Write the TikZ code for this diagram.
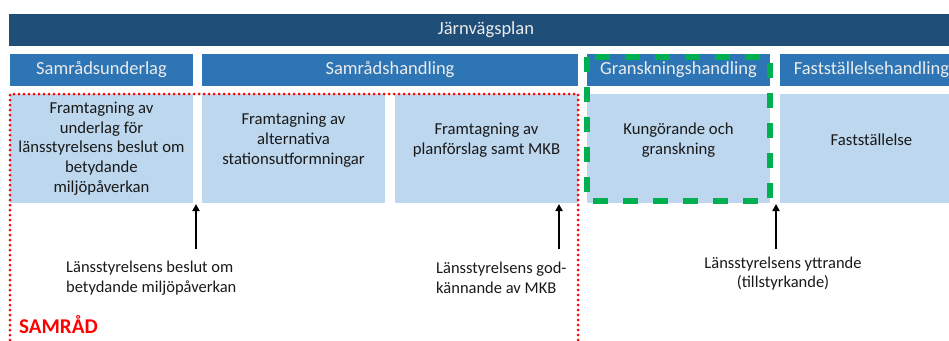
\documentclass[tikz,border=0pt]{standalone}
\usepackage{fontspec}
\setmainfont{Carlito}
\usetikzlibrary{arrows.meta}
\definecolor{darkbar}{HTML}{1F4E79}
\definecolor{midbar}{HTML}{2E75B6}
\definecolor{lightbox}{HTML}{BDD7EE}
\definecolor{grn}{HTML}{00B050}
\definecolor{rd}{HTML}{FF0000}
\tikzset{
  topbar/.style={fill=darkbar,draw=none},
  phase/.style={fill=midbar,draw=none},
  stepbox/.style={fill=lightbox,draw=none},
  hdr/.style={text=white!92!black,font=\fontsize{18.5}{22}\selectfont,inner sep=0pt},
  btxt/.style={text=black!90,font=\fontsize{16.7}{19.8}\selectfont,align=center,inner sep=0pt},
  ltxt/.style={text=black!90,font=\fontsize{16.5}{19.8}\selectfont,inner sep=0pt},
  upar/.style={draw=black,line width=2pt,-{Triangle[width=7pt,length=7pt]}},
}
\begin{document}
\begin{tikzpicture}[x=1pt,y=-1pt]
\useasboundingbox (0,0) rectangle (949,340);
\clip (0,0) rectangle (949,340);
% top bar
\path[topbar] (9,14) rectangle (963,46);
\node[hdr] (jvp) at (486,30) {Järnvägsplan};
% phase row
\path[phase] (10,54) rectangle (193,86);
\node[hdr] (su) at (101.5,70) {Samrådsunderlag};
\path[phase] (202,54) rectangle (578,86);
\node[hdr] (sh) at (390,70) {Samrådshandling};
\path[phase] (587,54) rectangle (770,86);
\node[hdr] (gh) at (678.5,70) {Granskningshandling};
\path[phase] (780,54) rectangle (963,86);
\node[hdr] (fh) at (871.5,70) {Fastställelsehandling};
% step boxes
\path[stepbox] (10,94) rectangle (193,203);
\path[stepbox] (202,94) rectangle (385,203);
\path[stepbox] (395,94) rectangle (578,203);
\path[stepbox] (587,94) rectangle (770,203);
\path[stepbox] (780,94) rectangle (963,203);
\node[btxt] (b1) at (101.5,148.5) {Framtagning av\\underlag för\\länsstyrelsens beslut om\\betydande\\miljöpåverkan};
\node[btxt] (b2) at (293.5,140) {Framtagning av\\alternativa\\stationsutformningar};
\node[btxt] (b3) at (486.5,140) {Framtagning av\\planförslag samt MKB};
\node[btxt] (b4) at (678.5,140) {Kungörande och\\granskning};
\node[btxt] (b5) at (871.5,140) {Fastställelse};
% frames
\draw[rd,line width=3pt,line cap=round,dash pattern=on 0pt off 5pt] (10,360) -- (10,94) -- (578,94) -- (578,360);
\draw[grn,line width=6pt,dash pattern=on 15pt off 15pt] (587,57) rectangle (769.5,201);
% labels
\node[ltxt,align=left,anchor=west] (l1) at (66,278) {Länsstyrelsens beslut om\\betydande miljöpåverkan};
\node[ltxt,align=left,anchor=west] (l2) at (436,278) {Länsstyrelsens god-\\kännande av MKB};
\node[ltxt,align=center] (l3) at (783,273.5) {Länsstyrelsens yttrande\\(tillstyrkande)};
\node[text=rd,font=\fontsize{21}{24}\bfseries\selectfont,anchor=west,inner sep=0pt] (samr) at (19,325) {SAMRÅD};
% arrows
\coordinate (a1s) at (196,249); \coordinate (a1e) at (196,204);
\coordinate (a2s) at (559,249); \coordinate (a2e) at (559,204);
\coordinate (a3s) at (776,249); \coordinate (a3e) at (776,204);
\draw[upar] (a1s) -- (a1e);
\draw[upar] (a2s) -- (a2e);
\draw[upar] (a3s) -- (a3e);
\end{tikzpicture}
\end{document}
